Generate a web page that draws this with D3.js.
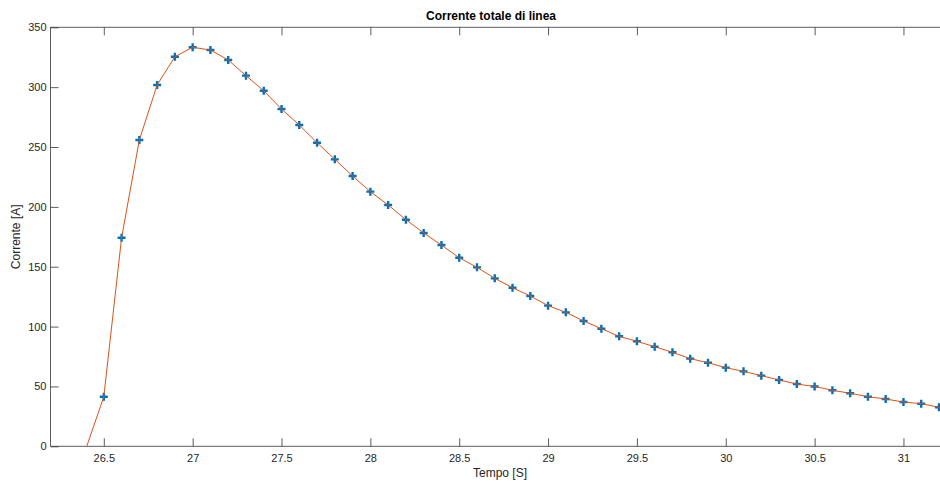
<!DOCTYPE html>
<html>
<head>
<meta charset="utf-8">
<script src="https://cdn.jsdelivr.net/npm/d3@7"></script>
<style>
  body { margin: 0; background: #fff; }
  svg { display: block; font-family: "Liberation Sans", Arial, sans-serif; }
</style>
</head>
<body>
<svg width="940" height="485"></svg>
<script>
// sampled current (markers)
const sampleTimes = [
  26.5, 26.6, 26.7, 26.8, 26.9, 27.0, 27.1, 27.2, 27.3, 27.4,
  27.5, 27.6, 27.7, 27.8, 27.9, 28.0, 28.1, 28.2, 28.3, 28.4,
  28.5, 28.6, 28.7, 28.8, 28.9, 29.0, 29.1, 29.2, 29.3, 29.4,
  29.5, 29.6, 29.7, 29.8, 29.9, 30.0, 30.1, 30.2, 30.3, 30.4,
  30.5, 30.6, 30.7, 30.8, 30.9, 31.0, 31.1, 31.2,
];
const sampleCurrent = [
  41.4, 174.2, 255.9, 301.8, 325.4, 333.3, 331.0, 322.7, 309.6, 297.0,
  281.7, 268.4, 253.6, 239.7, 225.8, 212.7, 201.6, 189.3, 178.2, 168.1,
  157.5, 149.5, 140.3, 132.5, 125.5, 117.5, 111.9, 104.7, 98.2, 91.9,
  87.7, 83.2, 78.5, 73.2, 69.8, 65.7, 62.6, 59.0, 55.4, 52.0,
  50.0, 46.8, 44.3, 41.4, 39.5, 37.0, 35.6, 32.6,
];

// reconstructed curve (orange line), starts one step earlier
const curveTimes = [26.4, ...sampleTimes];
const curveCurrent = [-1.7, ...sampleCurrent];

const xTicks = [26.5, 27, 27.5, 28, 28.5, 29, 29.5, 30, 30.5, 31];
const yTicks = [0, 50, 100, 150, 200, 250, 300, 350];

const svg = d3.select('svg');
const plotLeft = 50.5, plotTop = 27.3, plotBottom = 446.3;
const frameRight = 960; // right side of the box runs past the window

const x = d3.scaleLinear().domain([26.2, 31.2]).range([plotLeft, 939]);
const y = d3.scaleLinear().domain([0, 350]).range([plotBottom, plotTop]);

const axisColor = '#262626';
const tickLen = 8;

svg.append('defs').append('clipPath').attr('id', 'plot')
  .append('rect')
  .attr('x', plotLeft).attr('y', plotTop)
  .attr('width', frameRight - plotLeft).attr('height', plotBottom - plotTop);

// frame
svg.append('path')
  .attr('d', `M${frameRight},${plotTop}H${plotLeft}V${plotBottom}H${frameRight}`)
  .attr('fill', 'none')
  .attr('stroke', axisColor)
  .attr('stroke-opacity', 0.75)
  .attr('stroke-width', 1);

// bottom axis: inward ticks + labels
const xAxis = d3.axisBottom(x).tickValues(xTicks).tickSize(-tickLen)
  .tickFormat(d3.format('~g'));
const gx = svg.append('g').attr('transform', `translate(0,${plotBottom})`).call(xAxis);
gx.select('.domain').remove();

// top ticks
const gxTop = svg.append('g').attr('transform', `translate(0,${plotTop})`)
  .call(d3.axisTop(x).tickValues(xTicks).tickSize(-tickLen).tickFormat(''));
gxTop.select('.domain').remove();

// left axis
const yAxis = d3.axisLeft(y).tickValues(yTicks).tickSize(-tickLen).tickPadding(4);
const gy = svg.append('g').attr('transform', `translate(${plotLeft},0)`).call(yAxis);
gy.select('.domain').remove();

svg.selectAll('.tick line').attr('stroke', axisColor).attr('stroke-opacity', 0.75);
svg.selectAll('.tick text')
  .attr('fill', axisColor)
  .attr('font-size', 11)
  .attr('font-family', '"Liberation Sans", Arial, sans-serif');
gx.selectAll('.tick text').attr('dy', 0).attr('y', 16);

const plot = svg.append('g').attr('clip-path', 'url(#plot)');

// markers '+'
const plus = 'M-4,0H4M0,-4V4';
plot.append('g')
  .selectAll('path')
  .data(sampleTimes.map((t, i) => [t, sampleCurrent[i]]))
  .join('path')
  .attr('transform', (d) => `translate(${x(d[0])},${y(d[1])})`)
  .attr('d', plus)
  .attr('stroke', '#0072BD')
  .attr('stroke-width', 2.4)
  .attr('fill', 'none');

// curve on top
const line = d3.line()
  .x((d) => x(d[0]))
  .y((d) => y(d[1]));
plot.append('path')
  .datum(curveTimes.map((t, i) => [t, curveCurrent[i]]))
  .attr('d', line)
  .attr('fill', 'none')
  .attr('stroke', '#D95319')
  .attr('stroke-width', 1);

// title and labels
svg.append('text')
  .attr('x', 491).attr('y', 20)
  .attr('text-anchor', 'middle')
  .attr('font-size', 12)
  .attr('font-weight', 'bold')
  .attr('fill', '#000')
  .text('Corrente totale di linea');

svg.append('text')
  .attr('x', 500).attr('y', 477)
  .attr('text-anchor', 'middle')
  .attr('font-size', 12)
  .attr('fill', axisColor)
  .text('Tempo [S]');

svg.append('text')
  .attr('transform', `translate(20,${(plotTop + plotBottom) / 2}) rotate(-90)`)
  .attr('text-anchor', 'middle')
  .attr('font-size', 12)
  .attr('fill', axisColor)
  .text('Corrente [A]');
</script>
</body>
</html>
